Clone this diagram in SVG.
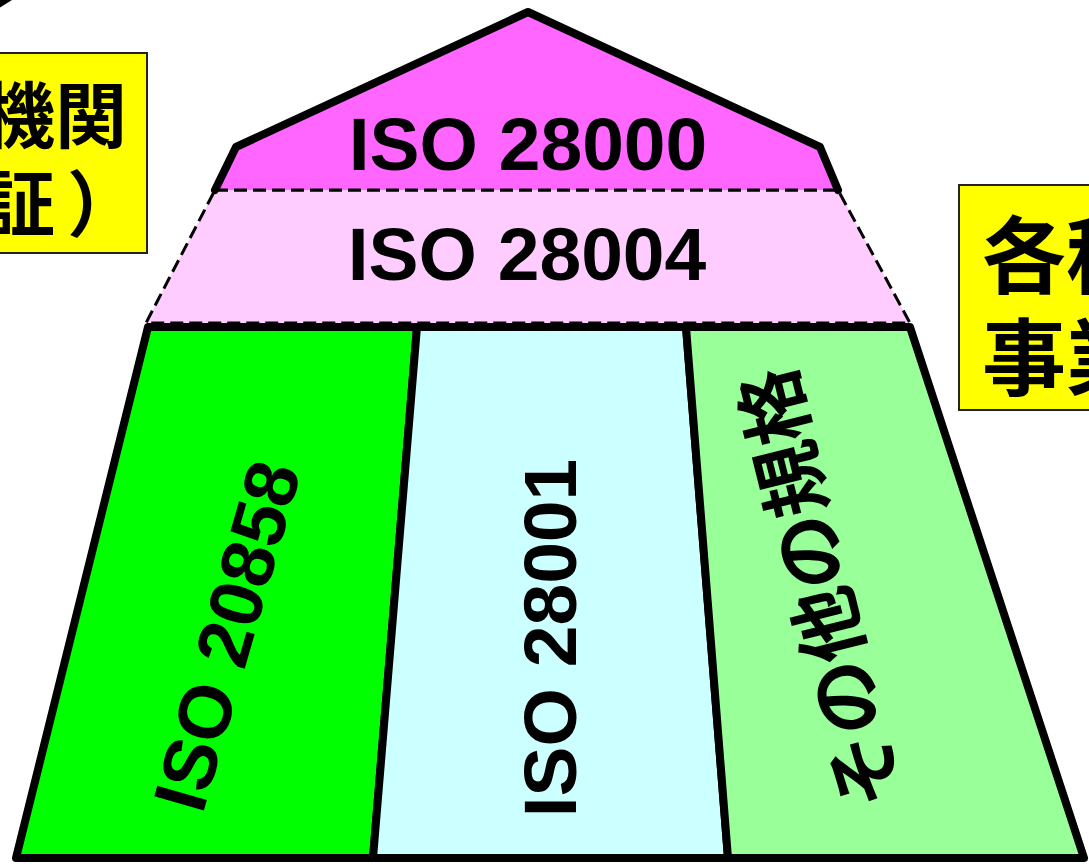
<svg xmlns="http://www.w3.org/2000/svg" width="1089" height="867" viewBox="0 0 1089 867">
<style>
.lbl{font-family:"Liberation Sans",Arial,sans-serif;font-weight:bold;font-size:75px;fill:#000}
.jp{font-family:"Noto Sans CJK JP","Noto Sans CJK SC",sans-serif;font-weight:bold;fill:#000}
.thick{stroke:#000;stroke-width:8;stroke-linejoin:round;stroke-linecap:round}
.dash{stroke:#000;stroke-width:3;stroke-dasharray:13 6}
.box{fill:#FFFF00;stroke:#222;stroke-width:2}
</style>
<rect width="1089" height="867" fill="#fff"/>
<g id="connectors">
<polygon points="0,0 12,0 0,7.5" fill="#000"/>
</g>
<g id="box-left">
<rect class="box" x="-20" y="53" width="167" height="200"/>
<text class="jp" font-size="72" x="127" y="142" text-anchor="end">認証機関</text>
<text class="jp" font-size="72" x="139" y="230" text-anchor="end">（認証<tspan dx="12">）</tspan></text>
</g>
<g id="box-right">
<rect class="box" x="959" y="185" width="160" height="225"/>
<text class="jp" font-size="84" x="982" y="287">各種</text>
<text class="jp" font-size="84" x="982" y="389">事業者</text>
</g>
<g id="iso28004">
<polygon points="215,190 838,190 910,323 146,323" style="fill:#FFCCFF" class="dash"/>
<text class="lbl" x="527" y="280" text-anchor="middle">ISO 28004</text>
</g>
<g id="iso28000">
<polygon points="215,190 236,147 528,12 820,147 838,190" fill="#FF66FF"/>
<polyline points="215,190 236,147 528,12 820,147 838,190" fill="none" class="thick"/>
<line x1="215" y1="190" x2="838" y2="190" class="dash"/>
<text class="lbl" x="528" y="170" text-anchor="middle">ISO 28000</text>
</g>
<g id="iso20858">
<polygon points="148,327 417,327 373,858 16,858" fill="#00FF00" class="thick"/>
<text class="lbl" text-anchor="middle" transform="translate(252,643) rotate(-74)">ISO 20858</text>
</g>
<g id="iso28001">
<polygon points="417,327 686,327 728,858 373,858" fill="#CCFFFF" class="thick"/>
<text class="lbl" text-anchor="middle" transform="translate(576,638) rotate(-90)">ISO 28001</text>
</g>
<g id="other">
<polygon points="686,327 910,327 1084,858 728,858" fill="#99FF99" class="thick"/>
<text class="jp" font-size="75" text-anchor="middle" transform="translate(846,582) rotate(-104)">その他の規格</text>
</g>
</svg>
